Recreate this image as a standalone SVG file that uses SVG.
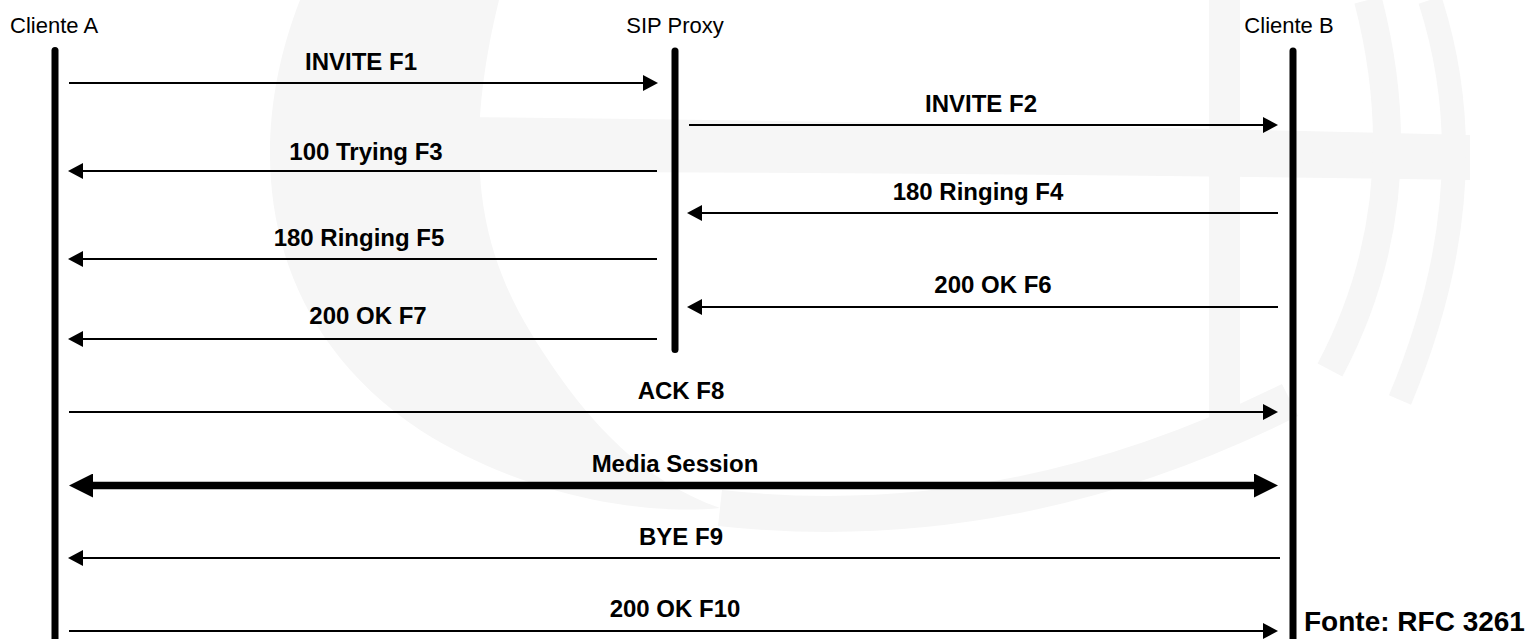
<svg xmlns="http://www.w3.org/2000/svg" width="1531" height="639" viewBox="0 0 1531 639">
<style>
.wm{fill:#f6f6f6;stroke:none}
.wms{fill:none;stroke:#f6f6f6}
.life{stroke:#000;stroke-width:7;stroke-linecap:round;fill:none}
.msg{stroke:#000;stroke-width:2.2;fill:none}
.media{stroke:#000;stroke-width:7.5;fill:none}
.name{font-family:"Liberation Sans",Arial,sans-serif;font-size:22px;fill:#000}
.lbl{font-family:"Liberation Sans",Arial,sans-serif;font-size:24px;font-weight:bold;fill:#000;text-anchor:middle}
.src{font-family:"Liberation Sans",Arial,sans-serif;font-size:28px;font-weight:bold;fill:#000}
</style>
<defs>
<marker id="ah" markerUnits="userSpaceOnUse" viewBox="0 0 15 16" refX="5" refY="8" markerWidth="15" markerHeight="16" orient="auto-start-reverse">
<path d="M0,0 L15,8 L0,16 Z" fill="#000"/>
</marker>
<marker id="ahb" markerUnits="userSpaceOnUse" viewBox="0 0 24 24" refX="8" refY="12" markerWidth="24" markerHeight="24" orient="auto-start-reverse">
<path d="M0,0 L24,12 L0,24 Z" fill="#000"/>
</marker>
</defs>
<rect width="1531" height="639" fill="#fff"/>
<g id="watermark">
<path class="wm" d="M300,0 C245,140 255,320 420,430 C530,500 650,515 720,508 C640,480 590,420 555,370 C500,290 450,200 499,0 Z"/>
<path class="wm" d="M457,117 Q960,122 1470,135 L1470,180 Q960,172 457,172 Z"/>
<rect class="wm" x="1209" y="0" width="31" height="433"/>
<path class="wms" stroke-width="28" d="M1368,0 Q1420,200 1330,370"/>
<path class="wms" stroke-width="24" d="M1430,0 Q1490,185 1400,400"/>
<path class="wms" stroke-width="36" d="M720,508 Q1010,540 1290,400"/>
</g>
<g id="cliente-a">
<text class="name" x="10" y="33">Cliente A</text>
<line class="life" x1="55" y1="50.5" x2="55" y2="650"/>
</g>
<g id="sip-proxy">
<text class="name" x="675" y="33" text-anchor="middle">SIP Proxy</text>
<line class="life" x1="675" y1="51" x2="675" y2="349.5"/>
</g>
<g id="cliente-b">
<text class="name" x="1289" y="33" text-anchor="middle">Cliente B</text>
<line class="life" x1="1293" y1="51" x2="1293" y2="650"/>
</g>
<g id="connectors">
<line class="msg" x1="69" y1="83" x2="648" y2="83" marker-end="url(#ah)"/>
<line class="msg" x1="689" y1="125" x2="1268" y2="125" marker-end="url(#ah)"/>
<line class="msg" x1="657" y1="171" x2="78" y2="171" marker-end="url(#ah)"/>
<line class="msg" x1="1278" y1="213" x2="697" y2="213" marker-end="url(#ah)"/>
<line class="msg" x1="657" y1="259" x2="78" y2="259" marker-end="url(#ah)"/>
<line class="msg" x1="1278" y1="307" x2="697" y2="307" marker-end="url(#ah)"/>
<line class="msg" x1="657" y1="339" x2="78" y2="339" marker-end="url(#ah)"/>
<line class="msg" x1="69" y1="412" x2="1268" y2="412" marker-end="url(#ah)"/>
<line class="media" x1="85" y1="485.5" x2="1262" y2="485.5" marker-start="url(#ahb)" marker-end="url(#ahb)"/>
<line class="msg" x1="1280" y1="558" x2="78" y2="558" marker-end="url(#ah)"/>
<line class="msg" x1="69" y1="631" x2="1268" y2="631" marker-end="url(#ah)"/>
</g>
<g id="labels">
<text class="lbl" x="361" y="70">INVITE F1</text>
<text class="lbl" x="981" y="112">INVITE F2</text>
<text class="lbl" x="366" y="160">100 Trying F3</text>
<text class="lbl" x="978" y="200">180 Ringing F4</text>
<text class="lbl" x="359" y="246">180 Ringing F5</text>
<text class="lbl" x="993" y="293">200 OK F6</text>
<text class="lbl" x="368" y="324">200 OK F7</text>
<text class="lbl" x="681" y="399">ACK F8</text>
<text class="lbl" x="675" y="472">Media Session</text>
<text class="lbl" x="681" y="545">BYE F9</text>
<text class="lbl" x="675" y="617">200 OK F10</text>
</g>
<g id="source">
<text class="src" x="1304" y="631">Fonte: RFC 3261</text>
</g>
</svg>
